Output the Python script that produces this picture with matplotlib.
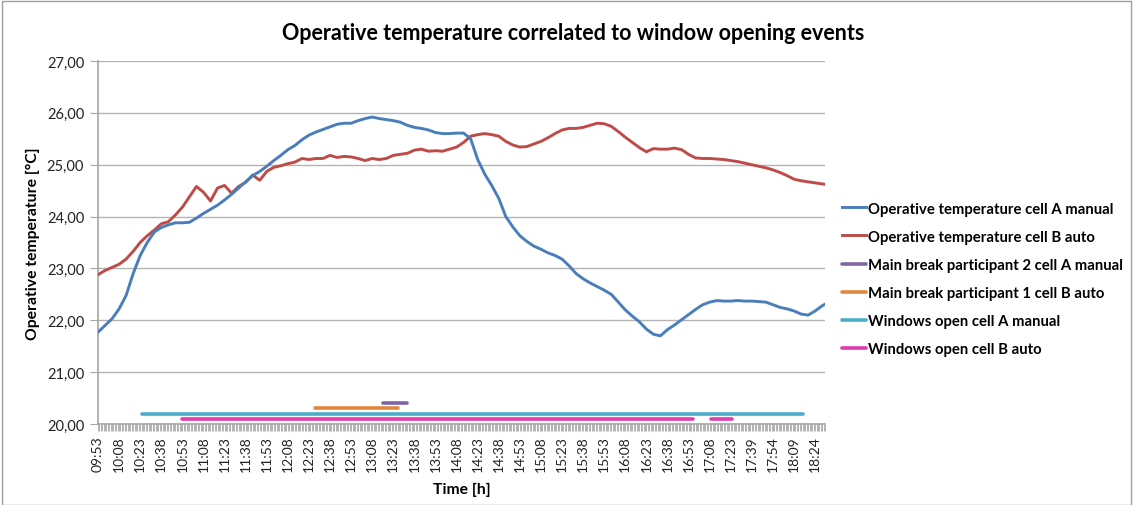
import matplotlib
matplotlib.use("Agg")
import matplotlib.pyplot as plt
from matplotlib.patches import Rectangle
from datetime import datetime, timedelta

plt.rcParams['font.family'] = ['Lato', 'DejaVu Sans']

# Logged minutes (one sample per minute; the 17:30 record is missing)
START = "09:53"
END = "18:31"
MISSING = ["17:30"]

# Operative temperatures read every 5th logged sample (plus the final one)
SAMPLE_STEP = 5
temp_a_manual = [
    21.77, 21.90, 22.03, 22.22, 22.48, 22.90, 23.25, 23.50, 23.70, 23.79,
    23.84, 23.88, 23.88, 23.89, 23.97, 24.06, 24.14, 24.22, 24.32, 24.43,
    24.55, 24.67, 24.79, 24.87, 24.97, 25.08, 25.18, 25.29, 25.37, 25.48,
    25.57, 25.63, 25.68, 25.73, 25.78, 25.80, 25.80, 25.85, 25.89, 25.92,
    25.89, 25.87, 25.85, 25.82, 25.76, 25.72, 25.70, 25.67, 25.62, 25.60,
    25.60, 25.61, 25.61, 25.50, 25.10, 24.82, 24.60, 24.35, 24.00, 23.80,
    23.63, 23.52, 23.43, 23.37, 23.30, 23.25, 23.18, 23.05, 22.90, 22.80,
    22.72, 22.65, 22.58, 22.50, 22.35, 22.20, 22.08, 21.97, 21.83, 21.73,
    21.70, 21.82, 21.91, 22.01, 22.11, 22.21, 22.30, 22.35, 22.38, 22.37,
    22.37, 22.38, 22.37, 22.37, 22.36, 22.35, 22.30, 22.25, 22.22, 22.18,
    22.12, 22.10, 22.18, 22.28, 22.31,
]
temp_b_auto = [
    22.88, 22.96, 23.02, 23.08, 23.18, 23.33, 23.50, 23.63, 23.74, 23.86,
    23.90, 24.03, 24.18, 24.38, 24.58, 24.47, 24.30, 24.55, 24.60, 24.45,
    24.58, 24.66, 24.80, 24.70, 24.87, 24.95, 24.98, 25.02, 25.05, 25.12,
    25.10, 25.12, 25.12, 25.18, 25.14, 25.16, 25.15, 25.12, 25.08, 25.12,
    25.10, 25.12, 25.18, 25.20, 25.22, 25.28, 25.30, 25.26, 25.27, 25.26,
    25.30, 25.34, 25.43, 25.55, 25.58, 25.60, 25.58, 25.55, 25.45, 25.38,
    25.34, 25.35, 25.40, 25.45, 25.52, 25.60, 25.67, 25.70, 25.70, 25.72,
    25.76, 25.80, 25.79, 25.74, 25.64, 25.53, 25.43, 25.33, 25.25, 25.31,
    25.30, 25.30, 25.32, 25.29, 25.20, 25.13, 25.12, 25.12, 25.11, 25.10,
    25.08, 25.06, 25.03, 25.00, 24.97, 24.94, 24.90, 24.85, 24.79, 24.72,
    24.69, 24.67, 24.65, 24.63, 24.62,
]

# Event periods (start, end) and the level at which each is drawn
break_p2_a_manual = [("13:16", "13:33")]
break_p1_b_auto = [("12:27", "13:26")]
windows_a_manual = [("10:24", "18:15")]
windows_b_auto = [("10:53", "16:56"), ("17:09", "17:24")]
EVENT_LEVELS = {"p2": 20.4, "p1": 20.3, "wa": 20.2, "wb": 20.1}

# Category axis of logged times
t0 = datetime.strptime(START, "%H:%M")
t1 = datetime.strptime(END, "%H:%M")
times = []
t = t0
while t <= t1:
    s = t.strftime("%H:%M")
    if s not in MISSING:
        times.append(s)
    t += timedelta(minutes=1)
n = len(times)

sample_idx = list(range(0, n - 1, SAMPLE_STEP))
if sample_idx[-1] != n - 1:
    sample_idx.append(n - 1)

BLUE = "#4A7EBB"
RED = "#BE4B48"
PURPLE = "#7F63A3"
ORANGE = "#E0873C"
CYAN = "#4BACC6"
PINK = "#E03CB0"

fig = plt.figure(figsize=(11.34, 5.06), dpi=100)
ax = fig.add_axes([98 / 1134, 1 - 425 / 506, (825 - 98) / 1134, (425 - 62) / 506])

ax.plot(sample_idx, temp_a_manual, color=BLUE, lw=2.1,
        label="Operative temperature cell A manual", zorder=4)
ax.plot(sample_idx, temp_b_auto, color=RED, lw=2.1,
        label="Operative temperature cell B auto", zorder=3)


def draw_periods(periods, level, color, label):
    for k, (a, b) in enumerate(periods):
        ia, ib = times.index(a), times.index(b)
        ax.plot([ia, ib], [level, level], color=color, lw=2.6,
                solid_capstyle="round", label=label if k == 0 else None, zorder=5)


draw_periods(break_p2_a_manual, EVENT_LEVELS["p2"], PURPLE,
             "Main break participant 2 cell A manual")
draw_periods(break_p1_b_auto, EVENT_LEVELS["p1"], ORANGE,
             "Main break participant 1 cell B auto")
draw_periods(windows_a_manual, EVENT_LEVELS["wa"], CYAN,
             "Windows open cell A manual")
draw_periods(windows_b_auto, EVENT_LEVELS["wb"], PINK,
             "Windows open cell B auto")

ax.set_xlim(0, n - 1)
ax.set_ylim(20, 27)
ax.set_yticks(range(20, 28))
ax.set_yticklabels([f"{v},00" for v in range(20, 28)], fontsize=10.5, color="#222222")
major = list(range(0, n, 15))
ax.set_xticks(major)
ax.set_xticklabels([times[i] for i in major], rotation=90, fontsize=10, color="#222222")
ax.set_xticks(range(n), minor=True)
ax.tick_params(axis="x", which="both", direction="out", length=5, width=0.6,
               color="#a6a6a6", pad=3)
ax.tick_params(axis="y", which="major", direction="out", length=6, width=0.8,
               color="#a6a6a6", pad=4)

ax.grid(axis="y", color="#b3b3b3", lw=1.0)
ax.set_axisbelow(True)
for side in ("top", "right"):
    ax.spines[side].set_visible(False)
ax.spines["left"].set_color("#a6a6a6")
ax.spines["bottom"].set_color("#a6a6a6")
ax.spines["left"].set_linewidth(1.2)
ax.spines["bottom"].set_linewidth(1.2)

ax.set_xlabel("Time [h]", fontsize=11.3, fontweight="bold", labelpad=8)
ax.set_ylabel("Operative temperature [°C]", fontsize=11.3, fontweight="bold", labelpad=5)
fig.text(573 / 1134, 1 - 33 / 506, "Operative temperature correlated to window opening events",
         ha="center", va="center", fontsize=15.5, fontweight="bold")

leg = ax.legend(loc="center left", bbox_to_anchor=(1.024, 0.40), frameon=False,
                fontsize=10.7, handlelength=1.6, handletextpad=0.15,
                labelspacing=0.95, borderaxespad=0, borderpad=0)
for txt in leg.get_texts():
    txt.set_fontweight("bold")

fig.patches.append(Rectangle((2 / 1134, 0), 1129 / 1134, 1 - 2 / 506,
                             transform=fig.transFigure, fill=False,
                             edgecolor="#a0a0a0", lw=1.0))

fig.savefig("out.png", dpi=100)
